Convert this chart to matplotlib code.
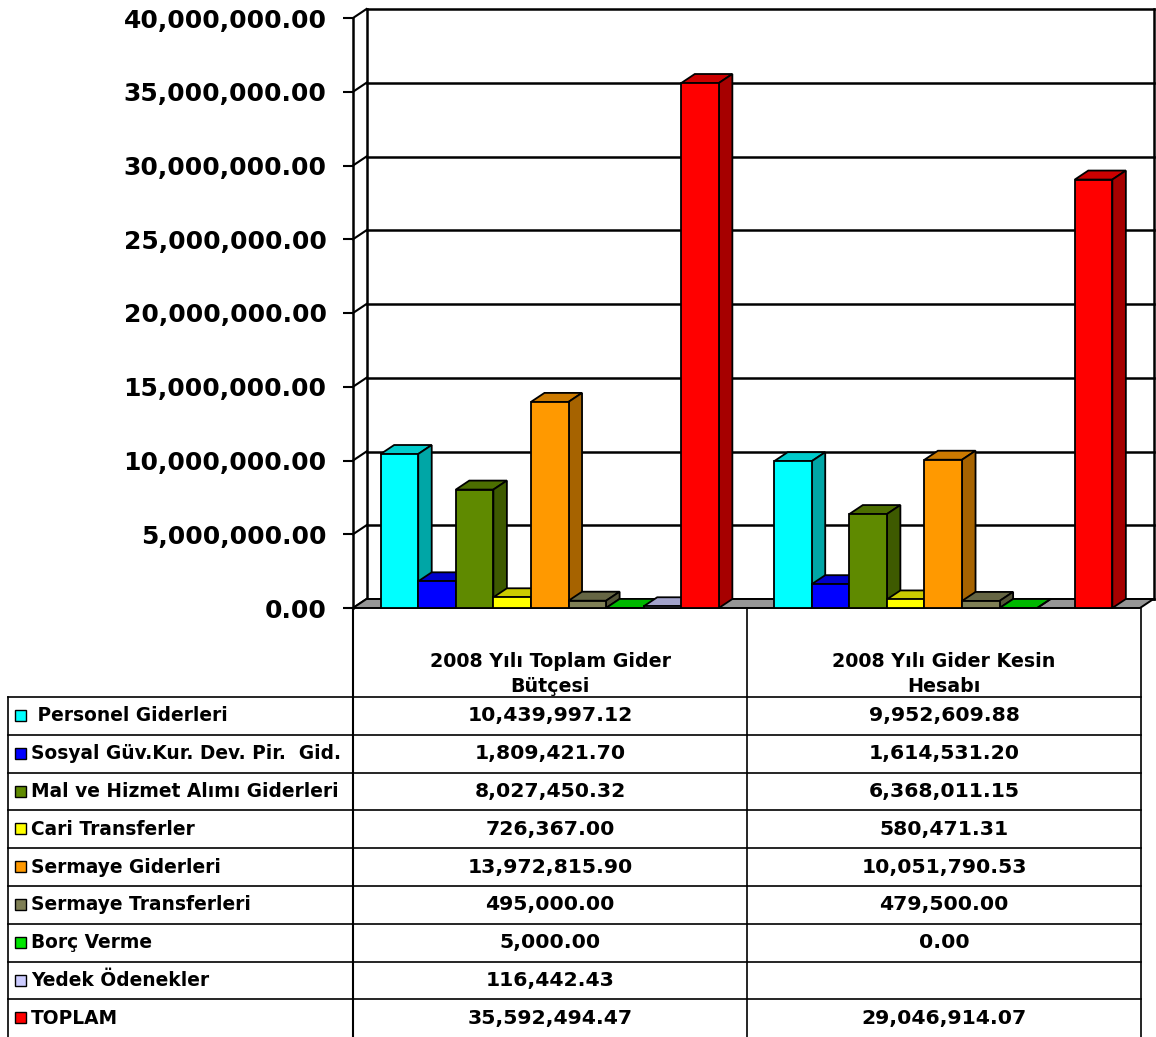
import numpy as np
import matplotlib
matplotlib.use('Agg')
import matplotlib.pyplot as plt
from matplotlib.patches import Polygon, Rectangle
from matplotlib.colors import to_rgb

# data
categories = ['2008 Yılı Toplam Gider\nBütçesi', '2008 Yılı Gider Kesin\nHesabı']
series = [' Personel Giderleri', 'Sosyal Güv.Kur. Dev. Pir.  Gid.',
          'Mal ve Hizmet Alımı Giderleri', 'Cari Transferler',
          'Sermaye Giderleri', 'Sermaye Transferleri', 'Borç Verme',
          'Yedek Ödenekler', 'TOPLAM']
butce = [10439997.12, 1809421.70, 8027450.32, 726367.00, 13972815.90,
         495000.00, 5000.00, 116442.43, 35592494.47]
kesin = [9952609.88, 1614531.20, 6368011.15, 580471.31, 10051790.53,
         479500.00, 0.00, None, 29046914.07]
colors = ['#00FFFF', '#0000FF', '#5F8A00', '#FFFF00', '#FF9900',
          '#7F7F55', '#00E600', '#CCCCFF', '#FF0000']
yticks = np.arange(0, 40000001, 5000000)

W, H = 1156, 1037
fig = plt.figure(figsize=(W / 100, H / 100), dpi=100)
fig.patch.set_facecolor('white')

# plot area in pixels
px_l, px_r, px_t, px_b = 353, 1140, 18, 608
ax = fig.add_axes([px_l / W, (H - px_b) / H, (px_r - px_l) / W, (px_b - px_t) / H])
ax.set_xlim(0, 2)
ax.set_ylim(0, 40000000)

# depth offset in data units
dx = 13.5 / (px_r - px_l) * 2
dy = 9 / (px_b - px_t) * 40000000


def shade(c, f):
    r, g, b = to_rgb(c)
    return (r * f, g * f, b * f)


# walls: back gridlines and left-wall diagonals
for v in yticks:
    ax.plot([dx, 2 + dx], [v + dy, v + dy], color='black', lw=1.8, clip_on=False, zorder=1)
    ax.plot([0, dx], [v, v + dy], color='black', lw=1.5, clip_on=False, zorder=1)
ax.plot([dx, dx], [dy, 40000000 + dy], color='black', lw=1.8, clip_on=False, zorder=1)
ax.plot([2 + dx, 2 + dx], [dy, 40000000 + dy], color='black', lw=1.8, clip_on=False, zorder=1)

# floor
ax.add_patch(Polygon([(0, 0), (2, 0), (2 + dx, dy), (dx, dy)], closed=True,
                     facecolor='#969696', edgecolor='black', lw=1.4, clip_on=False, zorder=2))

# bars
nser = len(series)
bw = 0.0955
gap = (1 - nser * bw) / 2
for g, vals in enumerate([butce, kesin]):
    for i, v in enumerate(vals):
        if v is None:
            continue
        x0 = g + gap + i * bw
        x1 = x0 + bw
        c = colors[i]
        top = Polygon([(x0, v), (x1, v), (x1 + dx, v + dy), (x0 + dx, v + dy)], closed=True,
                      facecolor=shade(c, 0.8), edgecolor='black', lw=1.3, clip_on=False, zorder=3)
        side = Polygon([(x1, 0), (x1 + dx, dy), (x1 + dx, v + dy), (x1, v)], closed=True,
                       facecolor=shade(c, 0.65), edgecolor='black', lw=1.3, clip_on=False, zorder=3)
        front = Rectangle((x0, 0), bw, v, facecolor=c, edgecolor='black', lw=1.3,
                          clip_on=False, zorder=3)
        ax.add_patch(top)
        ax.add_patch(side)
        ax.add_patch(front)

# y axis
for s in ['top', 'right', 'bottom']:
    ax.spines[s].set_visible(False)
ax.spines['left'].set_linewidth(1.8)
ax.spines['left'].set_zorder(5)
ax.set_facecolor('none')
ax.set_xticks([])
ax.set_yticks(yticks)
ax.set_yticklabels([f'{v:,.2f}' for v in yticks], fontsize=18, fontweight='bold')
ax.tick_params(axis='y', length=7, width=1.5, pad=12)

# data table
tab = fig.add_axes([0, 0, 1, 1])
tab.set_xlim(0, W)
tab.set_ylim(H, 0)
tab.axis('off')

col_x = [353, 747, 1141]
tab_left = 8
head_b = 697
row_h = 37.8

tab.plot([col_x[0], col_x[0]], [px_b, H], color='black', lw=1.5)
tab.plot([col_x[1], col_x[1]], [px_b, H], color='black', lw=1.2)
tab.plot([col_x[2], col_x[2]], [px_b, H], color='black', lw=1.2)
tab.plot([tab_left, tab_left], [head_b, H], color='black', lw=1.2)
for r in range(nser):
    yy = head_b + r * row_h
    tab.plot([tab_left, col_x[2]], [yy, yy], color='black', lw=1.2)

for k, cat in enumerate(categories):
    cx = (col_x[k] + col_x[k + 1]) / 2
    tab.text(cx, 674, cat, ha='center', va='center', fontsize=13.7, fontweight='bold',
             linespacing=1.45)

for r, name in enumerate(series):
    cy = head_b + (r + 0.5) * row_h
    tab.add_patch(Rectangle((15, cy - 6), 11, 11, facecolor=colors[r], edgecolor='black', lw=1.0))
    tab.text(31, cy, name, ha='left', va='center', fontsize=13.4, fontweight='bold')
    for k, vals in enumerate([butce, kesin]):
        v = vals[r]
        txt = '' if v is None else f'{v:,.2f}'
        cx = (col_x[k] + col_x[k + 1]) / 2
        tab.text(cx, cy, txt, ha='center', va='center', fontsize=14.7, fontweight='bold')

fig.savefig('out.png', dpi=100, facecolor='white')
